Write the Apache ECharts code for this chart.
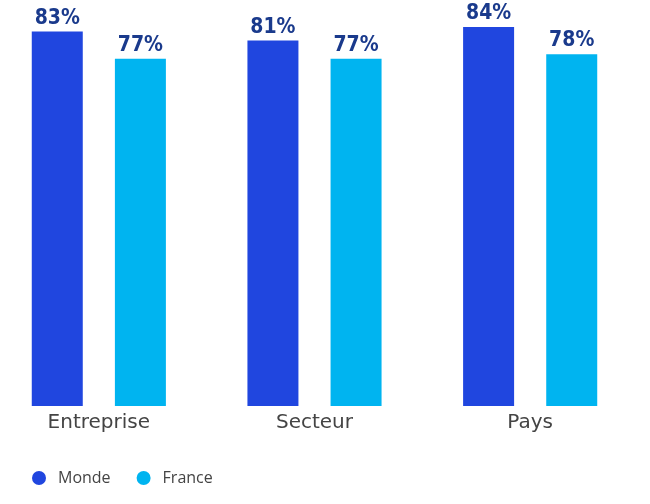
<!DOCTYPE html>
<html><head><meta charset="utf-8">
<script src="https://cdn.jsdelivr.net/npm/echarts@6/dist/echarts.min.js"></script>
<style>html,body{margin:0;padding:0;background:#fff}#c{width:650px;height:504px}</style>
</head><body><div id="c"></div>
<script>
const categories = ["Entreprise", "Secteur", "Pays"];
const monde = [83, 81, 84];
const france = [77, 77, 78];
const seriesNames = ["Monde", "France"];

const chart = echarts.init(document.getElementById('c'));
const labelStyle = {
  show: true, position: 'top', distance: 3,
  formatter: p => p.value + '%',
  color: '#1A3A8C', fontSize: 21, fontWeight: 'bold',
  fontFamily: '"Liberation Sans Narrow", "DejaVu Sans Condensed", sans-serif'
};
chart.setOption({
  animation: false,
  grid: { left: -9, width: 647, top: 0, height: 406, outerBoundsMode: 'none' },
  legend: {
    data: seriesNames, left: 32, top: 470, padding: 0, icon: 'circle',
    itemWidth: 14, itemHeight: 14, itemGap: 26,
    textStyle: { color: '#444', fontSize: 16, padding: [0, 0, 0, 7], fontFamily: '"Open Sans", sans-serif' }
  },
  xAxis: {
    type: 'category', data: categories,
    axisLine: { show: false }, axisTick: { show: false },
    axisLabel: { color: '#444', fontSize: 20, margin: 7, fontFamily: '"DejaVu Sans", sans-serif' }
  },
  yAxis: { type: 'value', min: 0, max: 90, show: false, splitLine: { show: false } },
  series: [
    { name: seriesNames[0], type: 'bar', data: monde, barWidth: 51, barGap: '63%',
      itemStyle: { color: '#2046DF' }, label: labelStyle },
    { name: seriesNames[1], type: 'bar', data: france, barWidth: 51,
      itemStyle: { color: '#00B4F0' }, label: labelStyle }
  ]
});
</script></body></html>
